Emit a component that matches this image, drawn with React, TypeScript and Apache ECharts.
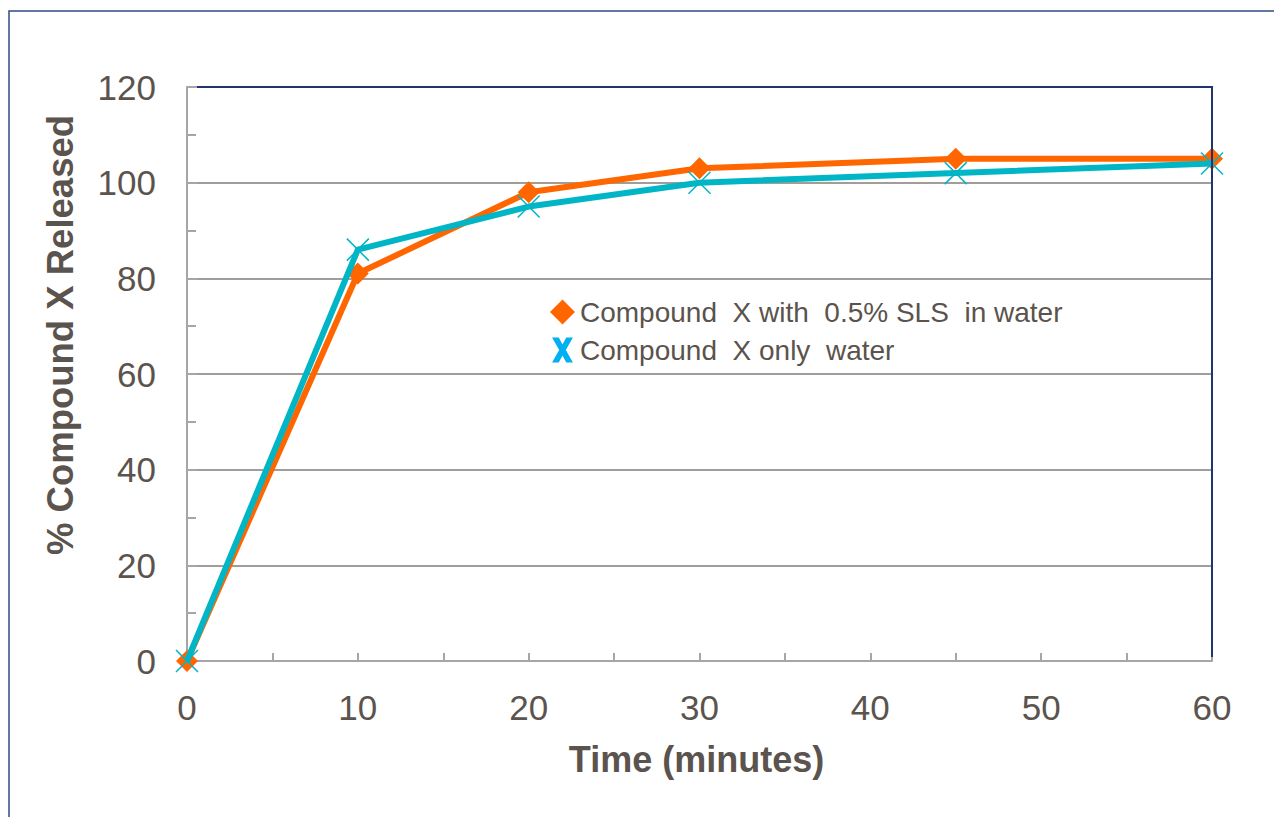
import React, { useEffect, useRef } from "react";
import * as echarts from "echarts";

const timeMinutes = [0, 10, 20, 30, 45, 60];
const slsValues = [0, 81, 98, 103, 105, 105];
const waterValues = [0, 86, 95, 100, 102, 104];
const seriesNames = ["Compound  X with  0.5% SLS  in water", "Compound  X only  water"];
const xTitle = "Time (minutes)";
const yTitle = "% Compound X Released";

const TEXT = "#5b534d";
const ORANGE = "#FF6600";
const CYAN = "#00B5C6";
const NAVY = "#1f3470";
const AXIS_GRAY = "#a6a6a6";

const X_PATH = "path://M0,0 L3.2,0 L5,3.4 L6.8,0 L10,0 L6.6,6 L10,12 L6.8,12 L5,8.6 L3.2,12 L0,12 L3.4,6 Z";
const CROSS_PATH = "path://M0,0 L10,10 M10,0 L0,10";

export default function App() {
  const ref = useRef<HTMLDivElement>(null);
  useEffect(() => {
    if (!ref.current) return;
    const chart = echarts.init(ref.current, undefined, { renderer: "svg" });
    const font = "'Liberation Sans', Arial, sans-serif";
    const gridLeft = 187, gridTop = 87, gridRight = 1212, gridBottom = 661;
    chart.setOption({
      animation: false,
      backgroundColor: "#ffffff",
      textStyle: { fontFamily: font },
      grid: { left: gridLeft, top: gridTop, right: 1274 - gridRight, bottom: 817 - gridBottom },
      xAxis: {
        type: "value",
        min: 0,
        max: 60,
        interval: 10,
        name: xTitle,
        nameLocation: "middle",
        nameGap: 80,
        nameTextStyle: { color: TEXT, fontSize: 36, fontWeight: "bold", fontFamily: font, padding: [0, 6, 0, 0] },
        axisLine: { show: true, lineStyle: { color: AXIS_GRAY, width: 2 } },
        axisTick: { show: true, inside: true, length: 8, lineStyle: { color: AXIS_GRAY, width: 2 } },
        minorTick: { show: true, splitNumber: 2, length: 8, lineStyle: { color: AXIS_GRAY, width: 2 } },
        axisLabel: { color: TEXT, fontSize: 35, margin: 29, fontFamily: font },
        splitLine: { show: false },
      },
      yAxis: {
        type: "value",
        min: 0,
        max: 120,
        interval: 20,
        name: yTitle,
        nameLocation: "middle",
        nameGap: 108,
        nameRotate: 90,
        nameTextStyle: { color: TEXT, fontSize: 36.5, fontWeight: "bold", fontFamily: font, padding: [0, 0, 0, 78] },
        axisLine: { show: true, lineStyle: { color: AXIS_GRAY, width: 2 } },
        axisTick: { show: true, inside: true, length: 10, lineStyle: { color: AXIS_GRAY, width: 2 } },
        minorTick: { show: true, splitNumber: 2, length: 9, lineStyle: { color: AXIS_GRAY, width: 2 } },
        axisLabel: { color: TEXT, fontSize: 35, margin: 31, fontFamily: font },
        splitLine: { show: true, lineStyle: { color: "#857d78", width: 1.5 } },
      },
      legend: {
        orient: "vertical",
        left: 545,
        top: 293,
        itemGap: 10,
        itemWidth: 25,
        itemHeight: 25,
        textStyle: { color: TEXT, fontSize: 28, fontFamily: font, padding: [0, 0, 0, 0] },
        data: [
          { name: seriesNames[0], icon: "diamond", itemStyle: { color: ORANGE } },
          { name: seriesNames[1], icon: X_PATH, itemStyle: { color: "#00B0F0", borderWidth: 0 } },
        ],
      },
      series: [
        {
          name: seriesNames[0],
          type: "line",
          data: timeMinutes.map((t, i) => [t, slsValues[i]]),
          symbol: "diamond",
          symbolSize: 22,
          showAllSymbol: true,
          lineStyle: { color: ORANGE, width: 6 },
          itemStyle: { color: ORANGE },
          z: 2,
        },
        {
          name: seriesNames[1],
          type: "line",
          data: timeMinutes.map((t, i) => [t, waterValues[i]]),
          symbol: CROSS_PATH,
          symbolSize: 22,
          showAllSymbol: true,
          lineStyle: { color: CYAN, width: 6 },
          itemStyle: { color: "rgba(0,0,0,0)", borderColor: CYAN, borderWidth: 1.5 },
          z: 3,
        },
      ],
      graphic: [
        {
          type: "rect",
          z: 100,
          shape: { x: 9, y: 11, width: 1300, height: 900 },
          style: { fill: "none", stroke: "#2f4b82", lineWidth: 1.5 },
          silent: true,
        },
        {
          type: "line",
          z: 100,
          shape: { x1: gridLeft + 10, y1: gridTop, x2: gridRight + 1, y2: gridTop },
          style: { stroke: NAVY, lineWidth: 2 },
          silent: true,
        },
        {
          type: "line",
          z: 100,
          shape: { x1: gridRight, y1: gridTop, x2: gridRight, y2: gridBottom - 4 },
          style: { stroke: NAVY, lineWidth: 2 },
          silent: true,
        },
      ],
    });
    return () => chart.dispose();
  }, []);
  return (
    <div
      ref={ref}
      style={{ position: "fixed", left: 0, top: 0, width: 1274, height: 817, background: "#fff" }}
    />
  );
}
